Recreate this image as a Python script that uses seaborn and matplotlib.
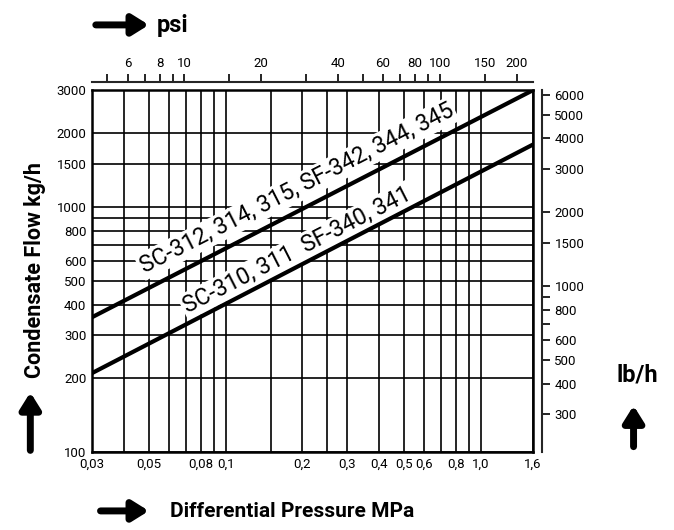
import numpy as np
import pandas as pd
import matplotlib
matplotlib.use("Agg")
import matplotlib.pyplot as plt
import seaborn as sns
from matplotlib.ticker import FixedLocator, FixedFormatter, NullFormatter

# Data (log-log straight lines)
pressure_mpa = [0.03, 1.6]
flow_high = [355, 3000]     # SC-312, 314, 315, SF-342, 344, 345
flow_low = [210, 1800]      # SC-310, 311  SF-340, 341

label_high = "SC-312, 314, 315, SF-342, 344, 345"
label_low = "SC-310, 311  SF-340, 341"

# Axis ticks
x_major = [0.03, 0.05, 0.08, 0.1, 0.2, 0.3, 0.4, 0.5, 0.6, 0.8, 1.0, 1.6]
x_major_labels = ["0,03", "0,05", "0,08", "0,1", "0,2", "0,3", "0,4", "0,5", "0,6", "0,8", "1,0", "1,6"]
x_minor = [0.04, 0.06, 0.07, 0.09, 0.15, 0.25, 0.7, 0.9]
y_major = [100, 200, 300, 400, 500, 600, 800, 1000, 1500, 2000, 3000]
y_minor = [700, 900]
psi_major = [6, 8, 10, 20, 40, 60, 80, 100, 150, 200]
psi_minor = [5, 7, 9, 15, 30, 50, 70, 90]
lbh_major = [300, 400, 500, 600, 800, 1000, 1500, 2000, 3000, 4000, 5000, 6000]
lbh_minor = [700, 900]

PSI_TO_MPA = 0.006895
KG_TO_LB = 2.1  # scale as drawn on the chart

sns.set_style("white")
plt.rcParams["font.family"] = ["Roboto", "DejaVu Sans"]
plt.rcParams["text.color"] = "black"
plt.rcParams["xtick.color"] = "black"
plt.rcParams["ytick.color"] = "black"

df = pd.DataFrame({
    "pressure": pressure_mpa * 2,
    "flow": flow_high + flow_low,
    "series": [label_high] * 2 + [label_low] * 2,
})

fig = plt.figure(figsize=(6.74, 5.3), dpi=100)
ax = fig.add_axes([0.1365, 0.147, 0.6545, 0.683])

sns.lineplot(data=df, x="pressure", y="flow", hue="series",
             palette=["black", "black"], linewidth=3.0, legend=False,
             ax=ax, zorder=5)

ax.set_xscale("log")
ax.set_yscale("log")
ax.set_xlim(0.03, 1.6)
ax.set_ylim(100, 3000)

ax.xaxis.set_major_locator(FixedLocator(x_major))
ax.xaxis.set_major_formatter(FixedFormatter(x_major_labels))
ax.xaxis.set_minor_locator(FixedLocator(x_minor))
ax.xaxis.set_minor_formatter(NullFormatter())
ax.yaxis.set_major_locator(FixedLocator(y_major))
ax.yaxis.set_major_formatter(FixedFormatter([str(v) for v in y_major]))
ax.yaxis.set_minor_locator(FixedLocator(y_minor))
ax.yaxis.set_minor_formatter(NullFormatter())
ax.tick_params(which="both", length=0, labelsize=9.5, pad=4)
ax.grid(True, which="both", color="black", linewidth=1.2)
ax.set_axisbelow(True)
ax.set_xlabel("")
ax.set_ylabel("")
for s in ax.spines.values():
    s.set_color("black")
    s.set_linewidth(1.8)

# Curve labels with white boxes that cut the grid
ax.text(0.19, 1190, label_high, rotation=27, ha="center", va="center",
        fontsize=16.5, rotation_mode="anchor", zorder=4,
        bbox=dict(facecolor="white", edgecolor="none", pad=1.5))
ax.text(0.19, 665, label_low, rotation=27, ha="center", va="center",
        fontsize=16.5, rotation_mode="anchor", zorder=4,
        bbox=dict(facecolor="white", edgecolor="none", pad=1.5))

# Top psi axis
top = ax.secondary_xaxis(1.022, functions=(lambda m: m / PSI_TO_MPA, lambda p: p * PSI_TO_MPA))
top.xaxis.set_major_locator(FixedLocator(psi_major))
top.xaxis.set_major_formatter(FixedFormatter([str(v) for v in psi_major]))
top.xaxis.set_minor_locator(FixedLocator(psi_minor))
top.xaxis.set_minor_formatter(NullFormatter())
top.tick_params(which="both", direction="out", length=6, width=1.2, labelsize=9.5, pad=3)
top.spines["top"].set_linewidth(1.5)

# Right lb/h axis
right = ax.secondary_yaxis(1.02, functions=(lambda k: k * KG_TO_LB, lambda l: l / KG_TO_LB))
right.yaxis.set_major_locator(FixedLocator(lbh_major))
right.yaxis.set_major_formatter(FixedFormatter([str(v) for v in lbh_major]))
right.yaxis.set_minor_locator(FixedLocator(lbh_minor))
right.yaxis.set_minor_formatter(NullFormatter())
right.tick_params(which="both", direction="out", length=6, width=1.2, labelsize=9.5, pad=3)
right.spines["right"].set_linewidth(1.5)

# Axis titles and arrows
bold = dict(fontweight="bold", color="black")
fig.text(0.052, 0.49, "Condensate Flow kg/h", rotation=90, ha="center", va="center",
         fontsize=15.5, **bold)
fig.text(0.252, 0.035, "Differential Pressure MPa", ha="left", va="center", fontsize=15, **bold)
fig.text(0.232, 0.952, "psi", ha="left", va="center", fontsize=17, **bold)
fig.text(0.945, 0.292, "lb/h", ha="center", va="center", fontsize=17, **bold)

arrow = dict(arrowstyle="-|>,head_length=0.8,head_width=0.5", color="black", lw=5)
for start, end in [((0.138, 0.953), (0.225, 0.953)),
                   ((0.145, 0.036), (0.225, 0.036)),
                   ((0.045, 0.145), (0.045, 0.265)),
                   ((0.94, 0.152), (0.94, 0.24))]:
    fig.add_artist(matplotlib.patches.FancyArrowPatch(
        start, end, transform=fig.transFigure, mutation_scale=12, **arrow))

fig.savefig("out.png", dpi=100)
